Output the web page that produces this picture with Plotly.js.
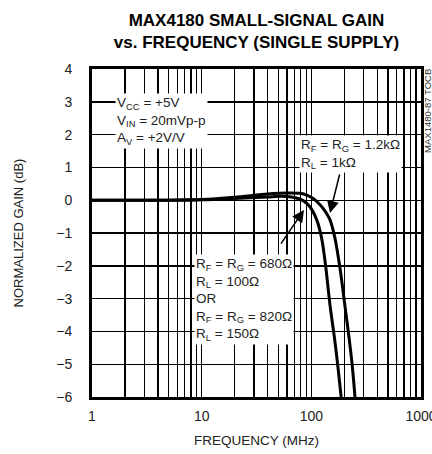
<!DOCTYPE html>
<html>
<head>
<meta charset="utf-8">
<script src="https://cdn.plot.ly/plotly-3.0.1.min.js"></script>
<style>html,body{margin:0;padding:0;background:#fff;}#chart{width:432px;height:454px;}</style>
</head>
<body>
<div id="chart"></div>
<script>
// Curve RF = RG = 680Ω, RL = 100Ω (or 820Ω / 150Ω)
const freqA = [1, 5, 10, 20, 40, 55, 70, 85, 97, 112, 124, 135, 148, 164, 175, 187];
const gainA = [0, 0, 0.01, 0.05, 0.1, 0.12, 0.08, -0.02, -0.2, -0.6, -1.15, -2.0, -3.2, -4.3, -5.1, -6];
// Curve RF = RG = 1.2kΩ, RL = 1kΩ
const freqB = [1, 5, 10, 20, 40, 60, 79, 92, 104, 117, 128, 148, 164, 183, 203, 222, 237, 250];
const gainB = [0, 0, 0.02, 0.09, 0.19, 0.22, 0.21, 0.15, 0.05, -0.1, -0.25, -0.6, -1.15, -2.1, -3.25, -4.26, -5.1, -6];

const xTickVals = [1, 10, 100, 1000];
const xTickText = ['1', '10', '100', '1000'];
const xMinorVals = [2,3,4,5,6,7,8,9,20,30,40,50,60,70,80,90,200,300,400,500,600,700,800,900];
const yTickVals = [-6,-5,-4,-3,-2,-1,0,1,2,3,4];

const FONT = '"Liberation Sans", Arial, sans-serif';

const traces = [
  {x: freqA, y: gainA, mode: 'lines', line: {color: '#000', width: 3, shape: 'spline', smoothing: 0.8}, hoverinfo: 'skip'},
  {x: freqB, y: gainB, mode: 'lines', line: {color: '#000', width: 3, shape: 'spline', smoothing: 0.8}, hoverinfo: 'skip'}
];

const layout = {
  width: 432, height: 454,
  margin: {l: 92, r: 11, t: 69, b: 57},
  paper_bgcolor: '#fff', plot_bgcolor: '#fff',
  showlegend: false,
  font: {family: FONT, size: 14, color: '#222'},
  title: {
    text: '<b>MAX4180 SMALL-SIGNAL GAIN<br>vs. FREQUENCY (SINGLE SUPPLY)</b>',
    font: {family: FONT, size: 17, color: '#000'},
    x: 0.5, xref: 'paper', xanchor: 'center',
    y: 0.943, yref: 'container', yanchor: 'middle'
  },
  xaxis: {
    type: 'log', range: [0, 3],
    tickmode: 'array', tickvals: xTickVals, ticktext: xTickText,
    showgrid: true, gridcolor: '#000', gridwidth: 1.2,
    minor: {tickmode: 'array', tickvals: xMinorVals, showgrid: true, gridcolor: '#000', gridwidth: 1.2, ticks: ''},
    showline: true, linecolor: '#000', linewidth: 3, mirror: true,
    ticks: '', ticklabelstandoff: 4, ticklabeloverflow: 'allow',
    tickfont: {family: FONT, size: 14, color: '#222'},
    title: {text: 'FREQUENCY (MHz)', font: {family: FONT, size: 13.5, color: '#222'}, standoff: 13},
    zeroline: false, fixedrange: true
  },
  yaxis: {
    range: [-6, 4],
    tickmode: 'array', tickvals: yTickVals,
    showgrid: true, gridcolor: '#000', gridwidth: 1.4,
    showline: true, linecolor: '#000', linewidth: 3, mirror: true,
    ticks: '', ticklabelstandoff: 14,
    tickfont: {family: FONT, size: 14, color: '#222'},
    title: {text: 'NORMALIZED GAIN (dB)', font: {family: FONT, size: 13, color: '#222'}, standoff: 30},
    zeroline: false, fixedrange: true
  },
  annotations: [
    {xref: 'x', yref: 'y', x: 0.21, y: 2.4, xanchor: 'left', yanchor: 'middle', align: 'left', showarrow: false,
     text: 'V<sub>CC</sub> = +5V<br>V<sub>IN</sub> = 20mVp-p<br>A<sub>V</sub> = +2V/V', bgcolor: '#fff', borderpad: 1,
     font: {family: FONT, size: 13.5, color: '#222'}},
    {xref: 'x', yref: 'y', x: 1.89, y: 1.42, xanchor: 'left', yanchor: 'middle', align: 'left', showarrow: false,
     text: 'R<sub>F</sub> = R<sub>G</sub> = 1.2kΩ<br>R<sub>L</sub> = 1kΩ', bgcolor: '#fff', borderpad: 1,
     font: {family: FONT, size: 13.5, color: '#222'}},
    {xref: 'x', yref: 'y', x: 0.93, y: -3.04, xanchor: 'left', yanchor: 'middle', align: 'left', showarrow: false,
     text: 'R<sub>F</sub> = R<sub>G</sub> = 680Ω<br>R<sub>L</sub> = 100Ω<br>OR<br>R<sub>F</sub> = R<sub>G</sub> = 820Ω<br>R<sub>L</sub> = 150Ω', bgcolor: '#fff', borderpad: 1,
     font: {family: FONT, size: 13.5, color: '#222'}},
    {xref: 'x', yref: 'y', axref: 'x', ayref: 'y', x: 2.17, y: -0.39, ax: 2.261, ay: 0.83, text: '',
     showarrow: true, arrowhead: 2, arrowsize: 1.6, arrowwidth: 1.5, arrowcolor: '#000', standoff: 0},
    {xref: 'x', yref: 'y', axref: 'x', ayref: 'y', x: 1.933, y: -0.30, ax: 1.714, ay: -1.37, text: '',
     showarrow: true, arrowhead: 2, arrowsize: 1.6, arrowwidth: 1.5, arrowcolor: '#000', standoff: 0},
    {xref: 'paper', yref: 'paper', x: 1.021, y: 0.872, xanchor: 'center', yanchor: 'middle', showarrow: false,
     textangle: -90, text: 'MAX1480-87 TOCB', font: {family: FONT, size: 9.5, color: '#333'}}
  ]
};

Plotly.newPlot('chart', traces, layout, {displayModeBar: false, staticPlot: true});
</script>
</body>
</html>
